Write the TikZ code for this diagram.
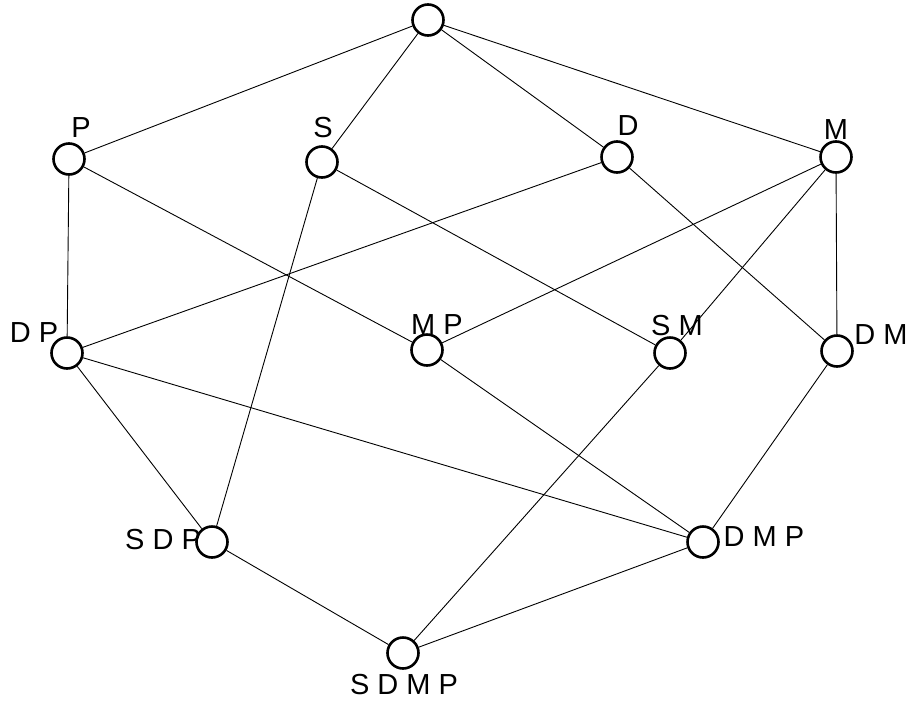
\documentclass[tikz,border=0pt]{standalone}
\usepackage{fontspec}
\setmainfont{Liberation Sans}
\begin{document}
\begin{tikzpicture}[x=1pt,y=-1pt,
  vert/.style={circle,draw=black,line width=2.6pt,minimum size=31pt,inner sep=0pt,fill=white},
  lbl/.style={font=\fontsize{29}{29}\selectfont,inner sep=0pt,anchor=center},
  edge/.style={line width=0.9pt,black}]
\useasboundingbox (0,0) rectangle (913,702);
\node[vert] (t) at (428,20) {};
\node[vert] (p) at (69,159) {};
\node[vert] (s) at (322,162) {};
\node[vert] (d) at (617,157) {};
\node[vert] (m) at (836,157) {};
\node[vert] (dp) at (67,353) {};
\node[vert] (mp) at (427,350) {};
\node[vert] (sm) at (670,353) {};
\node[vert] (dm) at (837,351) {};
\node[vert] (sdp) at (212,542) {};
\node[vert] (dmp) at (703,542) {};
\node[vert] (sdmp) at (403,653) {};
\node[lbl] (lp) at (81,128) {P};
\node[lbl] (ls) at (323,128) {S};
\node[lbl] (ld) at (628,126) {D};
\node[lbl] (lm) at (836,130) {M};
\node[lbl] (ldp) at (34,333) {D P};
\node[lbl] (lmp) at (437,325) {M P};
\node[lbl] (lsm) at (677,326) {S M};
\node[lbl] (ldm) at (881,335) {D M};
\node[lbl] (lsdp) at (163,540) {S D P};
\node[lbl] (ldmp) at (764,537) {D M P};
\node[lbl] (lsdmp) at (404,685) {S D M P};
\foreach \a/\b in {t/p,t/s,t/d,t/m,p/dp,p/mp,s/sdp,s/sm,d/dp,d/dm,m/mp,m/sm,m/dm,dp/sdp,dp/dmp,mp/dmp,sm/sdmp,dm/dmp,sdp/sdmp,dmp/sdmp}
  \draw[edge] (\a) -- (\b);
\end{tikzpicture}
\end{document}
